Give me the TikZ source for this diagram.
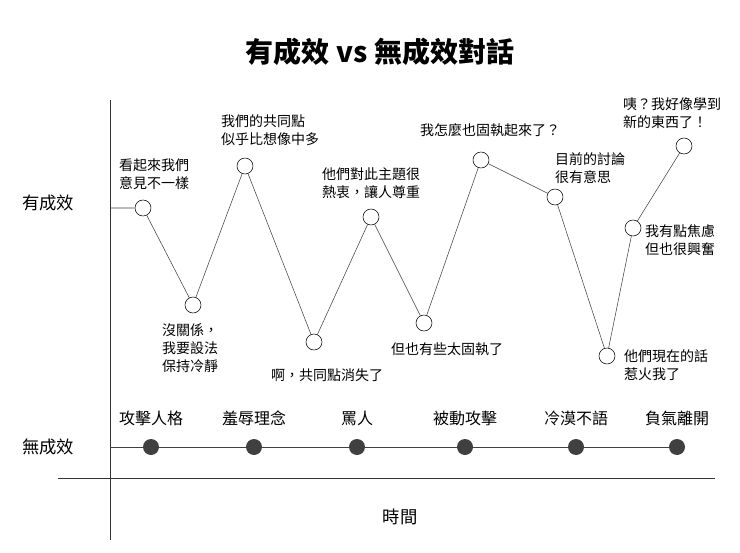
\documentclass[tikz,border=0pt]{standalone}
\usepackage{fontspec}
\setmainfont{Noto Sans CJK TC}
\begin{document}
\begin{tikzpicture}[x=0.75pt,y=-0.75pt,
    pt/.style={circle, draw, fill=white, inner sep=0pt, minimum size=12pt},
    bad/.style={circle, fill=black!75, inner sep=0pt, minimum size=12pt},
    lbl/.style={font=\fontsize{10.5}{13.5}\selectfont, align=center},
    axis/.style={draw=black!80, line width=0.6pt}]

    \useasboundingbox (0,0) rectangle (740,553);

    \node [font=\fontsize{21}{24}\selectfont\bfseries] (title) at (380,52) {有成效 vs 無成效對話};

    % axes
    \coordinate (ytop) at (110,100);
    \coordinate (ybot) at (110,540);
    \coordinate (xl) at (58,478);
    \coordinate (xr) at (715,478);
    \draw[axis] (ytop) -- (ybot);
    \draw[axis] (xl) -- (xr);
    \node [lbl, font=\fontsize{13}{15}\selectfont] (good) at (48,203) {有成效};
    \node [lbl, font=\fontsize{13}{15}\selectfont] (bad) at (48,447) {無成效};
    \node [lbl, font=\fontsize{13}{15}\selectfont] (time) at (400,517) {時間};

    % productive conversation
    \coordinate (s) at (110,208);
    \node [pt] (p1) at (143,208) {};
    \node [pt] (p2) at (193,305) {};
    \node [pt] (p3) at (245,166) {};
    \node [pt] (p4) at (314,342) {};
    \node [pt] (p5) at (371,217) {};
    \node [pt] (p6) at (424,323) {};
    \node [pt] (p7) at (481,160) {};
    \node [pt] (p8) at (555,197) {};
    \node [pt] (p9) at (607,356) {};
    \node [pt] (p10) at (633,228) {};
    \node [pt] (p11) at (684,146) {};
    \draw[black!75] (s) -- (p1) -- (p2) -- (p3) -- (p4) -- (p5) -- (p6)
        -- (p7) -- (p8) -- (p9) -- (p10) -- (p11);

    \node [lbl] (l1) at (154,174) {看起來我們\\意見不一樣};
    \node [lbl, align=left] (l2) at (190,348) {沒關係，\\我要設法\\保持冷靜};
    \node [lbl, align=left] (l3) at (270,130) {我們的共同點\\似乎比想像中多};
    \node [lbl] (l4) at (327,375) {啊，共同點消失了};
    \node [lbl, align=left] (l5) at (371,183) {他們對此主題很\\熱衷，讓人尊重};
    \node [lbl] (l6) at (447,349) {但也有些太固執了};
    \node [lbl] (l7) at (490,130) {我怎麼也固執起來了？};
    \node [lbl, align=left] (l8) at (590,168) {目前的討論\\很有意思};
    \node [lbl, align=left] (l9) at (666,365) {他們現在的話\\惹火我了};
    \node [lbl, align=right] (l10) at (680,240) {我有點焦慮\\但也很興奮};
    \node [lbl, align=left] (l11) at (672,113) {咦？我好像學到\\新的東西了！};

    % unproductive conversation
    \coordinate (u0) at (110,447);
    \coordinate (u7) at (685,447);
    \draw[black!75] (u0) -- (u7);
    \foreach \x/\t [count=\i] in {151/攻擊人格, 254/羞辱理念, 357/罵人,
        465/被動攻擊, 576/冷漠不語, 677/負氣離開} {
        \node [bad] (b\i) at (\x,447) {};
        \node [lbl, font=\fontsize{12}{14}\selectfont] (t\i) at (\x,418) {\t};
    }

\end{tikzpicture}
\end{document}
